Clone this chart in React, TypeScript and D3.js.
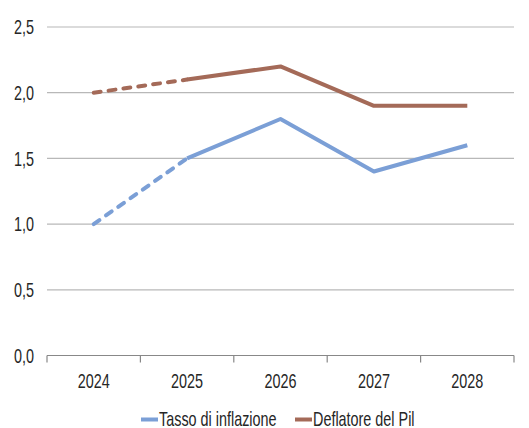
import React from "react";
import * as d3 from "d3";

const years = ["2024", "2025", "2026", "2027", "2028"];
const inflazione = [1.0, 1.5, 1.8, 1.4, 1.6];
const deflatore = [2.0, 2.1, 2.2, 1.9, 1.9];
const yTicks = [0, 0.5, 1.0, 1.5, 2.0, 2.5];
const seriesNames = ["Tasso di inflazione", "Deflatore del Pil"];
const seriesColors = ["#7b9fd6", "#a46a58"];

const W = 529;
const H = 428;
const left = 47;
const right = 514;
const top = 27;
const bottom = 355.5;
const FONT = "'Liberation Sans', Arial, sans-serif";
const SQUEEZE = 0.72;

function Label({
  x,
  y,
  anchor = "start",
  children,
}: {
  x: number;
  y: number;
  anchor?: string;
  children: React.ReactNode;
}) {
  return (
    <text
      transform={`translate(${x},${y}) scale(${SQUEEZE},1)`}
      dy="0.36em"
      textAnchor={anchor}
      fontSize={20}
      fill="#262626"
    >
      {children}
    </text>
  );
}

export default function App() {
  const x = d3.scaleBand<string>().domain(years).range([left, right]);
  const y = d3.scaleLinear().domain([0, 2.5]).range([bottom, top]);
  const cx = (i: number) => (x(years[i]) as number) + x.bandwidth() / 2;
  const line = d3
    .line<[number, number]>()
    .x((d) => cx(d[0]))
    .y((d) => y(d[1]));
  const fmt = (v: number) => d3.format(".1f")(v).replace(".", ",");

  const series = [inflazione, deflatore];
  const legendX = [141, 295];

  return (
    <svg
      width={W}
      height={H}
      style={{ position: "absolute", left: 0, top: 0, background: "#fff" }}
      fontFamily={FONT}
    >
      {yTicks.map((t) => (
        <g key={t}>
          {t > 0 && (
            <line x1={left} x2={right} y1={y(t)} y2={y(t)} stroke="#b8b8b8" strokeWidth={1.2} />
          )}
          <Label x={34} y={y(t)} anchor="end">
            {fmt(t)}
          </Label>
        </g>
      ))}
      <line x1={left} x2={right} y1={bottom} y2={bottom} stroke="#888" strokeWidth={1.2} />
      {d3.range(years.length + 1).map((i) => {
        const xx = left + i * x.bandwidth();
        return <line key={i} x1={xx} x2={xx} y1={bottom} y2={bottom + 7} stroke="#888" strokeWidth={1.2} />;
      })}
      {years.map((yr, i) => (
        <Label key={yr} x={cx(i)} y={380.5} anchor="middle">
          {yr}
        </Label>
      ))}
      {series.map((vals, s) => {
        const pts = vals.map((v, i) => [i, v] as [number, number]);
        return (
          <g key={s}>
            <path
              d={line(pts.slice(0, 2)) as string}
              fill="none"
              stroke={seriesColors[s]}
              strokeWidth={4}
              strokeLinecap="round"
              strokeDasharray="7,8"
            />
            <path
              d={line(pts.slice(1)) as string}
              fill="none"
              stroke={seriesColors[s]}
              strokeWidth={4}
              strokeLinejoin="round"
            />
          </g>
        );
      })}
      {seriesNames.map((name, s) => {
        const lx = legendX[s];
        return (
          <g key={name}>
            <line x1={lx} x2={lx + 17} y1={419.5} y2={419.5} stroke={seriesColors[s]} strokeWidth={4} />
            <Label x={lx + 18} y={419}>
              {name}
            </Label>
          </g>
        );
      })}
    </svg>
  );
}
